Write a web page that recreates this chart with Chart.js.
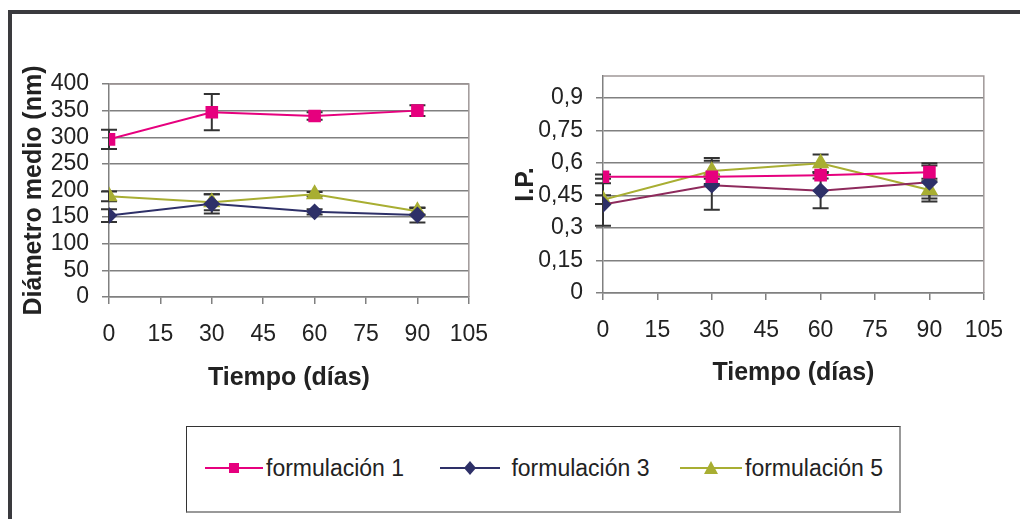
<!DOCTYPE html>
<html>
<head>
<meta charset="utf-8">
<script src="https://cdn.jsdelivr.net/npm/chart.js@4"></script>
<style>
  body { margin: 0; background: #fff; width: 1020px; height: 519px; overflow: hidden; position: relative; font-family: "Liberation Sans", Arial, sans-serif; }
  #frame { position: absolute; left: 8px; top: 10px; width: 1100px; height: 600px; border-left: 4px solid #3a3a3e; border-top: 4px solid #3a3a3e; }
  #leftBox { position: absolute; left: 10px; top: 15px; width: 495px; height: 390px; }
  #rightBox { position: absolute; left: 505px; top: 15px; width: 515px; height: 390px; }
  #legend { position: absolute; left: 186px; top: 426px; width: 712px; height: 84px; border: 1px solid #333; border-right: 2px solid #999; border-bottom: 2px solid #999; }
  .item { position: absolute; top: 28px; font-size: 23px; color: #222; white-space: nowrap; }
  .item svg { vertical-align: middle; margin-right: 3px; position: relative; top: -2px; }
</style>
</head>
<body>
<div id="frame"></div>
<div id="leftBox"><canvas id="leftChart" width="495" height="390"></canvas></div>
<div id="rightBox"><canvas id="rightChart" width="515" height="390"></canvas></div>
<div id="legend">
  <div class="item" style="left:18px"><svg width="58" height="14"><line x1="0" y1="7" x2="58" y2="7" stroke="#e6007e" stroke-width="2"/><rect x="24" y="2" width="10" height="10" fill="#e6007e"/></svg>formulación 1</div>
  <div class="item" style="left:253px"><svg width="62" height="16"><line x1="0" y1="8" x2="60" y2="8" stroke="#2e3068" stroke-width="2"/><polygon points="30,1 36,8 30,15 24,8" fill="#2e3068"/></svg>&nbsp;formulación 3</div>
  <div class="item" style="left:493px"><svg width="62" height="16"><line x1="0" y1="8" x2="62" y2="8" stroke="#a8ae32" stroke-width="2"/><polygon points="31,1 38,14 24,14" fill="#a8ae32"/></svg>formulación 5</div>
</div>
<script>
// tiempo en días
const dias = [0, 30, 60, 90]
const seriesNames = ['formulación 1', 'formulación 3', 'formulación 5']

// diámetro medio (nm) con barras de error
const diam1 = [296, 347, 340, 350]
const diam1Err = [18, 34, 7, 10]
const diam3 = [153, 175, 160, 154]
const diam3Err = [12, 18, 5, 14]
const diam5 = [189, 178, 193, 161]
const diam5Err = [9, 15, 4, 6]

// índice de polidispersión
const ip1 = [0.536, 0.536, 0.543, 0.557]
const ip1Err = [0.01, 0.01, 0.015, 0.03]
const ip3 = [0.408, 0.497, 0.471, 0.51]
const ip3Err = [0.098, 0.113, 0.08, 0.088]
const ip5 = [0.43, 0.562, 0.598, 0.475]
const ip5Err = [0.02, 0.06, 0.04, 0.04]

const xTicks = [0, 15, 30, 45, 60, 75, 90, 105]
const diamTicks = [0, 50, 100, 150, 200, 250, 300, 350, 400]
const ipTicks = [0, 0.15, 0.3, 0.45, 0.6, 0.75, 0.9]

const pink = '#e6007e'
const navy = '#2e3068'
const olive = '#a8ae32'

Chart.defaults.font.family = '"Liberation Sans", Arial, sans-serif'
Chart.defaults.color = '#222'

const toPoints = (vals) => vals.map((v, i) => ({ x: dias[i], y: v }))

// dibuja barras de error usando las escalas del gráfico (detrás de los marcadores)
const errorBars = {
  id: 'errorBars',
  beforeDatasetsDraw(chart) {
    const ctx = chart.ctx
    const xs = chart.scales.x
    const ys = chart.scales.y
    ctx.save()
    ctx.strokeStyle = '#333'
    ctx.lineWidth = 2
    chart.data.datasets.forEach(ds => {
      ds.err.forEach((e, i) => {
        const px = xs.getPixelForValue(dias[i])
        const top = ys.getPixelForValue(ds.data[i].y + e)
        const bot = ys.getPixelForValue(ds.data[i].y - e)
        ctx.beginPath()
        ctx.moveTo(px, top); ctx.lineTo(px, bot)
        ctx.moveTo(px - 8, top); ctx.lineTo(px + 8, top)
        ctx.moveTo(px - 8, bot); ctx.lineTo(px + 8, bot)
        ctx.stroke()
      })
    })
    ctx.restore()
  }
}

// borde del área de trazado
const plotBorder = {
  id: 'plotBorder',
  beforeDatasetsDraw(chart) {
    const { ctx, chartArea: a } = chart
    ctx.save()
    ctx.strokeStyle = '#a09898'
    ctx.lineWidth = 1.5
    ctx.beginPath()
    ctx.moveTo(a.left, a.top); ctx.lineTo(a.right, a.top); ctx.lineTo(a.right, a.bottom)
    ctx.stroke()
    ctx.restore()
  }
}

function makeDatasets(v1, e1, v3, e3, v5, e5, line3) {
  return [
    { label: seriesNames[0], data: toPoints(v1), err: e1, borderColor: pink, backgroundColor: pink, pointStyle: 'rect', pointRadius: 7.5, borderWidth: 2 },
    { label: seriesNames[1], data: toPoints(v3), err: e3, borderColor: line3, backgroundColor: navy, pointBorderColor: navy, pointStyle: 'rectRot', pointRadius: 7, borderWidth: 2 },
    { label: seriesNames[2], data: toPoints(v5), err: e5, borderColor: olive, backgroundColor: olive, pointStyle: 'triangle', pointRadius: 8, borderWidth: 2 }
  ]
}

function makeOptions(yMax, yTicks, yTitle, yTitlePad, fmt, pad, xH, yW, xTitlePad) {
  return {
    responsive: false,
    animation: false,
    layout: { padding: pad },
    plugins: { legend: { display: false }, tooltip: { enabled: false } },
    scales: {
      x: {
        type: 'linear', min: 0, max: 105,
        afterBuildTicks: s => { s.ticks = xTicks.map(v => ({ value: v })) },
        afterFit: s => { s.height = xH },
        grid: { drawOnChartArea: false, drawTicks: true, tickLength: 7, color: '#808080', lineWidth: 1.5 },
        border: { color: '#808080', width: 1.5 },
        ticks: { font: { size: 23 }, padding: 17, maxRotation: 0, autoSkip: false },
        title: { display: true, text: 'Tiempo (días)', font: { size: 25, weight: 'bold' }, padding: { top: 0, bottom: xTitlePad } }
      },
      y: {
        min: 0, max: yMax,
        afterBuildTicks: s => { s.ticks = yTicks.map(v => ({ value: v })) },
        afterFit: s => { s.width = yW },
        grid: { color: '#808080', lineWidth: 1.5, tickLength: 7 },
        border: { color: '#808080', width: 1.5 },
        ticks: { font: { size: 23 }, padding: 13, callback: fmt, autoSkip: false },
        title: { display: true, text: yTitle, font: { size: 25, weight: 'bold' }, padding: { top: yTitlePad, bottom: 0 } }
      }
    }
  }
}

new Chart(document.getElementById('leftChart'), {
  type: 'line',
  data: { datasets: makeDatasets(diam1, diam1Err, diam3, diam3Err, diam5, diam5Err, navy) },
  options: makeOptions(400, diamTicks, 'Diámetro medio (nm)', 9, v => String(v),
    { left: 0, right: 30, top: 69, bottom: 8 }, 100, 99, 4),
  plugins: [plotBorder, errorBars]
})

new Chart(document.getElementById('rightChart'), {
  type: 'line',
  data: { datasets: makeDatasets(ip1, ip1Err, ip3, ip3Err, ip5, ip5Err, '#8e2a5c') },
  options: makeOptions(1.0, ipTicks, 'I.P.', 6, v => String(Math.round(v * 100) / 100).replace('.', ','),
    { left: 0, right: 26, top: 61, bottom: 8 }, 104, 98, 9),
  plugins: [plotBorder, errorBars]
})
</script>
</body>
</html>
